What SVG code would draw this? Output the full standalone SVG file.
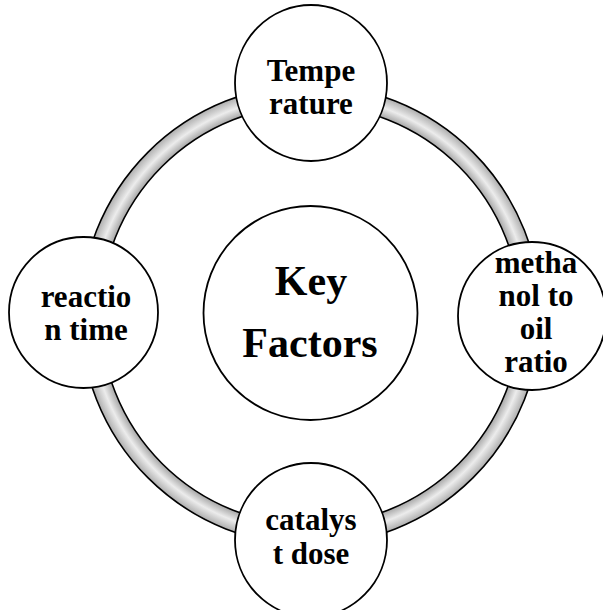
<svg xmlns="http://www.w3.org/2000/svg" width="603" height="610" viewBox="0 0 603 610">
<defs>
<radialGradient id="tube" gradientUnits="userSpaceOnUse" cx="310.5" cy="315" r="231">
<stop offset="0.905" stop-color="#a0a0a0"/>
<stop offset="0.95" stop-color="#ececec"/>
<stop offset="1" stop-color="#a8a8a8"/>
</radialGradient>
</defs>
<style>
.node{fill:#ffffff;stroke:#000000;stroke-width:1.8}
.t{font-family:"Liberation Serif","Times New Roman",serif;font-weight:bold;font-size:31px;text-anchor:middle;fill:#000000}
.big{font-size:42px}
</style>
<rect x="0" y="0" width="603" height="610" fill="#ffffff"/>
<g id="connectors">
<path d="M80.5,315 a230,230 0 1,0 460,0 a230,230 0 1,0 -460,0 Z M100.5,315 a210,210 0 1,0 420,0 a210,210 0 1,0 -420,0 Z" fill="url(#tube)" fill-rule="evenodd" stroke="#000000" stroke-width="1.6"/>
</g>
<g id="center">
<circle class="node" cx="310.5" cy="313" r="107"/>
<text class="t big" x="311" y="295">Key</text>
<text class="t big" x="310" y="357">Factors</text>
</g>
<g id="temperature">
<ellipse class="node" cx="311" cy="83" rx="76" ry="78"/>
<text class="t" x="311" y="81">Tempe</text>
<text class="t" x="311" y="114">rature</text>
</g>
<g id="methanol">
<ellipse class="node" cx="532" cy="316" rx="74" ry="74"/>
<text class="t" x="536" y="273">metha</text>
<text class="t" x="536" y="306">nol to</text>
<text class="t" x="536" y="339">oil</text>
<text class="t" x="536" y="372">ratio</text>
</g>
<g id="catalyst">
<ellipse class="node" cx="311" cy="540" rx="76" ry="77"/>
<text class="t" x="311" y="530">catalys</text>
<text class="t" x="311" y="564">t dose</text>
</g>
<g id="reaction">
<ellipse class="node" cx="83.5" cy="312.5" rx="74.5" ry="75.5"/>
<text class="t" x="86" y="307">reactio</text>
<text class="t" x="86" y="340">n time</text>
</g>
</svg>
